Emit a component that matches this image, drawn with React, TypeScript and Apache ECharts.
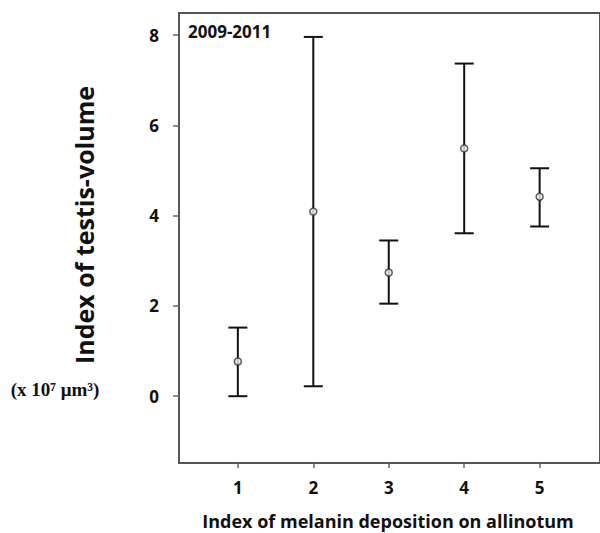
import React, { useEffect, useRef } from "react";
import * as echarts from "echarts";

const categories = [1, 2, 3, 4, 5];
const means = [0.77, 4.09, 2.74, 5.49, 4.42];
const lowers = [0.0, 0.22, 2.05, 3.61, 3.76];
const uppers = [1.52, 7.96, 3.45, 7.37, 5.05];
const yTicks = [0, 2, 4, 6, 8];
const xTicks = [1, 2, 3, 4, 5];

const SANS = "'Open Sans', Lato, sans-serif";

export default function App() {
  const ref = useRef<HTMLDivElement>(null);
  useEffect(() => {
    if (!ref.current) return;
    const chart = echarts.init(ref.current, null, { renderer: "svg" });
    const errData = categories.map((c, i) => [c, lowers[i], uppers[i]]);
    const meanData = categories.map((c, i) => [c, means[i]]);
    chart.setOption({
      animation: false,
      backgroundColor: "#fff",
      grid: {
        left: 179,
        top: 13,
        right: -3,
        bottom: 70,
        show: true,
        borderColor: "#555",
        borderWidth: 2,
        backgroundColor: "transparent",
      },
      xAxis: {
        type: "value",
        min: 0.22,
        max: 5.8,
        splitLine: { show: false },
        axisLine: { show: true, onZero: false, lineStyle: { color: "#555", width: 2 } },
        axisTick: { show: true, customValues: xTicks, length: 5, lineStyle: { color: "#666", width: 1.5 } },
        axisLabel: {
          customValues: xTicks,
          margin: 16,
          color: "#111",
          fontFamily: SANS,
          fontWeight: "bold",
          fontSize: 17,
        },
      },
      yAxis: {
        type: "value",
        min: -1.48,
        max: 8.49,
        splitLine: { show: false },
        axisLine: { show: true, onZero: false, lineStyle: { color: "#555", width: 2 } },
        axisTick: { show: true, customValues: yTicks, length: 6, lineStyle: { color: "#666", width: 1.5 } },
        axisLabel: {
          customValues: yTicks,
          margin: 20,
          color: "#111",
          fontFamily: SANS,
          fontWeight: "bold",
          fontSize: 17,
        },
      },
      graphic: [
        {
          type: "text",
          x: 84,
          y: 225,
          rotation: Math.PI / 2,
          style: {
            text: "Index of testis-volume",
            font: `bold 25px ${SANS}`,
            fill: "#111",
            textAlign: "center",
            textVerticalAlign: "middle",
          },
        },
        {
          type: "text",
          x: 55,
          y: 389,
          style: {
            text: "(x 10\u2077 \u03bcm\u00b3)",
            font: "bold 19px 'Liberation Serif', 'DejaVu Serif', serif",
            fill: "#111",
            textAlign: "center",
            textVerticalAlign: "middle",
          },
        },
        {
          type: "text",
          x: 188,
          y: 31,
          style: {
            text: "2009-2011",
            font: `bold 17px ${SANS}`,
            fill: "#111",
            textAlign: "left",
            textVerticalAlign: "middle",
          },
        },
        {
          type: "text",
          x: 388,
          y: 521,
          style: {
            text: "Index of melanin deposition on allinotum",
            font: `bold 18px ${SANS}`,
            fill: "#111",
            textAlign: "center",
            textVerticalAlign: "middle",
          },
        },
      ],
      series: [
        {
          type: "custom",
          data: errData,
          encode: { x: 0, y: [1, 2] },
          renderItem: (params: any, api: any) => {
            const x = api.value(0);
            const lo = api.coord([x, api.value(1)]);
            const hi = api.coord([x, api.value(2)]);
            const hw = 9.5;
            const style = { stroke: "#111", lineWidth: 2 };
            return {
              type: "group",
              children: [
                { type: "line", shape: { x1: lo[0], y1: lo[1], x2: hi[0], y2: hi[1] }, style },
                { type: "line", shape: { x1: lo[0] - hw, y1: lo[1], x2: lo[0] + hw, y2: lo[1] }, style },
                { type: "line", shape: { x1: hi[0] - hw, y1: hi[1], x2: hi[0] + hw, y2: hi[1] }, style },
              ],
            };
          },
          z: 2,
        },
        {
          type: "scatter",
          data: meanData,
          symbol: "circle",
          symbolSize: 7,
          itemStyle: { color: "#eee", borderColor: "#333", borderWidth: 1.5 },
          z: 3,
        },
      ],
    });
    return () => chart.dispose();
  }, []);
  return (
    <div
      ref={ref}
      style={{ position: "absolute", left: 0, top: 0, width: 600, height: 533 }}
    />
  );
}
